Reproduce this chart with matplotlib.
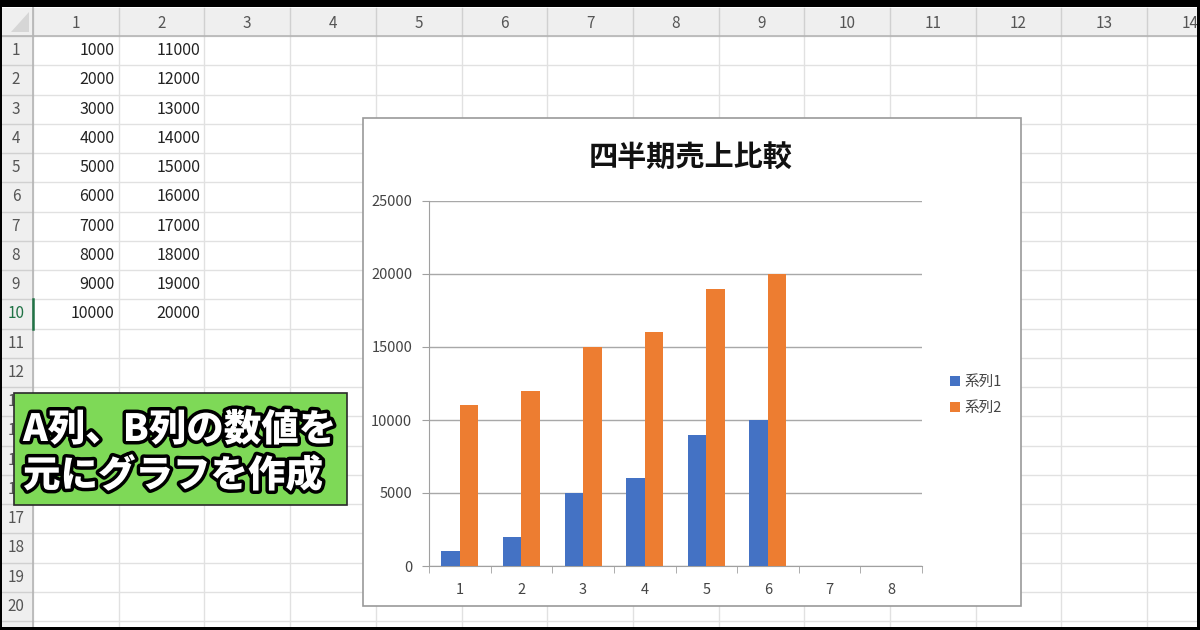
import matplotlib
matplotlib.use('Agg')
import matplotlib.pyplot as plt
import matplotlib.patheffects as pe
from matplotlib.patches import Rectangle, Polygon
import numpy as np

plt.rcParams['font.family'] = ['Noto Sans CJK JP', 'DejaVu Sans']

# spreadsheet contents
col_headers = [str(i) for i in range(1, 15)]
row_headers = [str(i) for i in range(1, 21)]
col_a = [1000, 2000, 3000, 4000, 5000, 6000, 7000, 8000, 9000, 10000]
col_b = [11000, 12000, 13000, 14000, 15000, 16000, 17000, 18000, 19000, 20000]

# chart data
categories = ['1', '2', '3', '4', '5', '6', '7', '8']
series1 = [1000, 2000, 5000, 6000, 9000, 10000, 0, 0]
series2 = [11000, 12000, 15000, 16000, 19000, 20000, 0, 0]
series_names = ['系列1', '系列2']
chart_title = '四半期売上比較'
callout = ['A列、B列の数値を', '元にグラフを作成']

W, H = 1200, 630
fig = plt.figure(figsize=(12, 6.3), dpi=100)
bg = fig.add_axes([0, 0, 1, 1])
bg.set_xlim(0, W)
bg.set_ylim(H, 0)
bg.axis('off')

# sheet geometry
x0, cw = 33, 85.7
y0, rh = 36, 29.25
head_top = 8
grid_c = '#e1e1e1'
head_bg = '#efefef'

bg.add_patch(Rectangle((0, 0), W, H, fc='white', ec='none', zorder=0))
bg.add_patch(Rectangle((0, head_top), W, y0 - head_top, fc=head_bg, ec='none', zorder=1))
bg.add_patch(Rectangle((0, head_top), x0, H, fc=head_bg, ec='none', zorder=1))
bg.add_patch(Polygon([[x0 - 4, head_top + 4], [x0 - 4, y0 - 4], [x0 - 22, y0 - 4]],
                     closed=True, fc='#d6d6d6', ec='none', zorder=2))

for i in range(len(col_headers) + 1):
    x = x0 + i * cw
    bg.plot([x, x], [y0, H], color=grid_c, lw=1, zorder=1.5)
    bg.plot([x, x], [head_top, y0], color='#d0d0d0', lw=1, zorder=2)
for j in range(len(row_headers) + 1):
    y = y0 + j * rh
    bg.plot([x0, W], [y, y], color=grid_c, lw=1, zorder=1.5)
    bg.plot([0, x0], [y, y], color='#d0d0d0', lw=1, zorder=2)
bg.plot([0, W], [y0, y0], color='#b5b5b5', lw=1.2, zorder=2)
bg.plot([x0, x0], [head_top, H], color='#b5b5b5', lw=1.2, zorder=2)

for i, lab in enumerate(col_headers):
    bg.text(x0 + (i + 0.5) * cw, (head_top + y0) / 2 + 1, lab, ha='center', va='center',
            fontsize=11, color='#555555', zorder=3)
for j, lab in enumerate(row_headers):
    c = '#217346' if j == 9 else '#555555'
    bg.text(16, y0 + (j + 0.5) * rh, lab, ha='center', va='center',
            fontsize=11, color=c, zorder=3)
# active row marker
bg.plot([x0, x0], [y0 + 9 * rh, y0 + 10 * rh], color='#217346', lw=1.8, zorder=3)

for j, (a, b) in enumerate(zip(col_a, col_b)):
    yc = y0 + (j + 0.5) * rh
    bg.text(x0 + cw - 4, yc, str(a), ha='right', va='center', fontsize=11.5, color='#222222', zorder=3)
    bg.text(x0 + 2 * cw - 4, yc, str(b), ha='right', va='center', fontsize=11.5, color='#222222', zorder=3)

# chart frame
bg.add_patch(Rectangle((363, 118), 658, 488, fc='white', ec='#9a9a9a', lw=1.2, zorder=4))
bg.text(691, 157, chart_title, ha='center', va='center', fontsize=21,
        fontweight='bold', color='#111111', zorder=5)

# callout box
bg.add_patch(Rectangle((14, 393), 333, 112, fc='#7ed957', ec='#2a2a2a', lw=1.2, zorder=6))
for k, line in enumerate(callout):
    bg.text(23, 430 + k * 46, line, ha='left', va='center', fontsize=27,
            fontweight='heavy', color='white', zorder=7,
            path_effects=[pe.Stroke(linewidth=5, foreground='black'), pe.Normal()])

# outer black frame
bg.add_patch(Rectangle((0, 0), W, 7, fc='black', ec='none', zorder=8))
bg.add_patch(Rectangle((0, 0), 2, H, fc='black', ec='none', zorder=8))
bg.add_patch(Rectangle((W - 3, 0), 3, H, fc='black', ec='none', zorder=8))
bg.add_patch(Rectangle((0, H - 3), W, 3, fc='black', ec='none', zorder=8))

# bar chart
pl, pr, pt, pb = 429, 922, 201, 566
ax = fig.add_axes([pl / W, 1 - pb / H, (pr - pl) / W, (pb - pt) / H])
ax.set_zorder(5)
ax.patch.set_alpha(0)
x = np.arange(1, len(categories) + 1)
bw = 0.3
b1 = ax.bar(x - bw / 2, series1, bw, color='#4472c4', zorder=3)
b2 = ax.bar(x + bw / 2, series2, bw, color='#ed7d31', zorder=3)
ax.set_xlim(0.5, len(categories) + 0.5)
ax.set_ylim(0, 25000)
ax.set_yticks(np.arange(0, 25001, 5000))
ax.set_xticks(x)
ax.set_xticklabels(categories)
ax.set_xticks(np.arange(0.5, len(categories) + 1), minor=True)
ax.tick_params(axis='x', which='major', length=0, pad=12, labelsize=10.5, labelcolor='#444444')
ax.tick_params(axis='x', which='minor', length=5, color='#a0a0a0', direction='out')
ax.tick_params(axis='y', length=5, color='#a0a0a0', direction='out', pad=7,
               labelsize=10.5, labelcolor='#444444')
ax.yaxis.grid(True, color='#a8a8a8', lw=1, zorder=1)
for s in ['top', 'right']:
    ax.spines[s].set_visible(False)
for s in ['left', 'bottom']:
    ax.spines[s].set_color('#a0a0a0')

leg = ax.legend([b1, b2], series_names, loc='center left',
                bbox_to_anchor=((944 - pl) / (pr - pl), 1 - (395 - pt) / (pb - pt)),
                frameon=False, fontsize=10.5, handlelength=0.7, handleheight=0.7,
                handletextpad=0.3, labelspacing=0.8, borderaxespad=0)
for t in leg.get_texts():
    t.set_color('#444444')

fig.savefig('out.png', dpi=100)
